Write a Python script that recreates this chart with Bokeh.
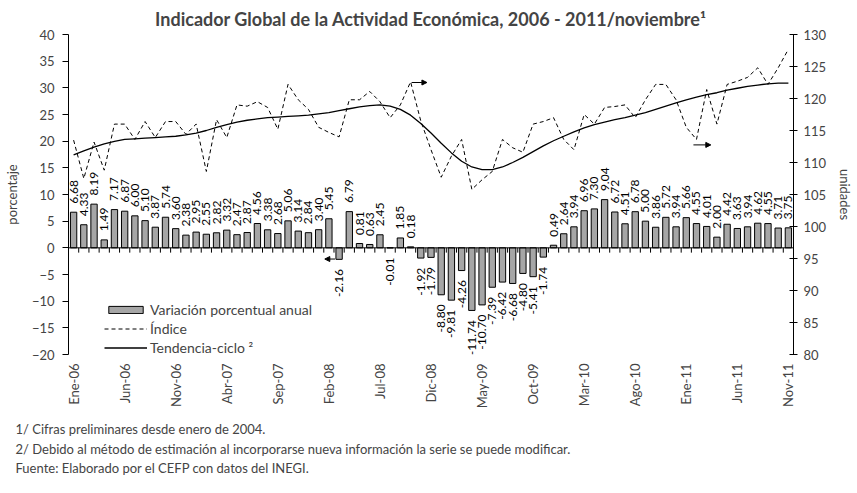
import math
from bokeh.plotting import figure
from bokeh.models import (Range1d, LinearAxis, FixedTicker, Legend, LegendItem,
                          Title, Arrow, NormalHead, ColumnDataSource, Span)
from bokeh.core.properties import value
from bokeh.embed import file_html
from bokeh.resources import INLINE

# ---------------- data ----------------
months = list(range(71))  # Ene-06 .. Nov-11

variacion = [
    6.68, 4.33, 8.19, 1.49, 7.17, 6.87, 6.00, 5.10, 3.87, 5.74, 3.60, 2.38,
    2.95, 2.55, 2.82, 3.32, 2.47, 2.87, 4.56, 3.38, 2.68, 5.06, 3.14, 2.84,
    3.40, 5.45, -2.16, 6.79, 0.81, 0.63, 2.45, -0.01, 1.85, 0.18, -1.92, -1.79,
    -8.80, -9.81, -4.26, -11.74, -10.70, -7.39, -6.42, -6.68, -4.80, -5.41, -1.74, 0.49,
    2.64, 3.94, 6.96, 7.30, 9.04, 6.72, 4.51, 6.78, 5.00, 3.86, 5.72, 3.94,
    5.66, 4.55, 4.01, 2.00, 4.42, 3.63, 3.94, 4.62, 4.55, 3.71, 3.75,
]

indice = [
    113.5, 107.5, 113.2, 108.8, 116.0, 116.0, 113.6, 116.4, 113.9, 116.4, 116.4, 114.4,
    116.0, 108.6, 116.7, 113.9, 119.0, 118.8, 119.5, 118.6, 115.2, 122.2, 119.8, 118.3,
    115.5, 114.7, 114.0, 119.8, 119.8, 121.1, 119.5, 117.0, 119.0, 122.6, 116.5, 112.0,
    107.7, 111.0, 113.6, 105.8, 107.3, 108.6, 113.6, 112.3, 111.6, 116.0, 116.4, 117.0,
    113.6, 112.0, 117.5, 116.0, 118.6, 118.75, 119.0, 117.0, 119.8, 122.2, 122.2, 119.8,
    115.5, 113.6, 121.4, 116.0, 122.2, 122.7, 123.3, 124.8, 122.2, 124.8, 127.7,
]

tendencia = [
    111.2, 111.8, 112.4, 112.9, 113.3, 113.6, 113.7, 113.8, 113.9, 114.0, 114.1, 114.3,
    114.6, 115.0, 115.5, 115.9, 116.3, 116.6, 116.8, 117.0, 117.1, 117.2, 117.3, 117.4,
    117.6, 117.8, 118.1, 118.4, 118.7, 118.9, 119.0, 118.8, 118.3, 117.4, 116.1, 114.6,
    113.0, 111.5, 110.2, 109.3, 108.9, 108.9, 109.3, 110.0, 110.8, 111.7, 112.6, 113.4,
    114.1, 114.8, 115.4, 115.9, 116.3, 116.7, 117.0, 117.4, 117.8, 118.3, 118.8, 119.3,
    119.8, 120.2, 120.6, 120.9, 121.3, 121.6, 121.9, 122.1, 122.3, 122.4, 122.4,
]

tick_pos = [0, 5, 10, 15, 20, 25, 30, 35, 40, 45, 50, 55, 60, 65, 70]
tick_labels = ["Ene-06", "Jun-06", "Nov-06", "Abr-07", "Sep-07", "Feb-08", "Jul-08",
               "Dic-08", "May-09", "Oct-09", "Mar-10", "Ago-10", "Ene-11", "Jun-11", "Nov-11"]

left_ticks = [-20, -15, -10, -5, 0, 5, 10, 15, 20, 25, 30, 35, 40]
right_ticks = [80, 85, 90, 95, 100, 105, 110, 115, 120, 125, 130]

titulo = "Indicador Global de la Actividad Económica, 2006 - 2011/noviembre¹"
notas = [
    "1/ Cifras preliminares desde enero de 2004.",
    "2/ Debido al método de estimación al incorporarse nueva información la serie se puede modificar.",
    "Fuente: Elaborado por el CEFP con datos del INEGI.",
]

FONT = "Lato"

# ---------------- figure ----------------
p = figure(frame_width=725, frame_height=320, output_backend="svg", toolbar_location=None,
           x_range=Range1d(-0.5, 70.5), y_range=Range1d(-20, 40),
           min_border_left=0, min_border_right=0, min_border_top=0, min_border_bottom=0)
p.extra_y_ranges = {"idx": Range1d(80, 130)}
p.outline_line_color = None
p.grid.visible = False
p.background_fill_color = "white"

p.title.text = titulo
p.title.align = "center"
p.title.offset = -2
p.title.text_font = FONT
p.title.text_font_size = "18px"
p.title.text_font_style = "bold"
p.title.standoff = 10

# x axis (labels only; line drawn at zero)
xa = p.xaxis[0]
xa.ticker = FixedTicker(ticks=tick_pos)
xa.major_label_overrides = {t: l for t, l in zip(tick_pos, tick_labels)}
xa.major_label_orientation = math.pi / 2
xa.axis_line_color = None
xa.major_tick_line_color = None
xa.minor_tick_line_color = None
xa.major_label_text_font = FONT
xa.major_label_text_font_size = "13px"
xa.major_label_standoff = 3

ya = p.yaxis[0]
ya.ticker = FixedTicker(ticks=left_ticks)
ya.major_tick_in = 0
ya.major_tick_out = 6
ya.minor_tick_line_color = None
ya.axis_label = "porcentaje"
ya.axis_label_text_font = FONT
ya.axis_label_text_font_size = "13px"
ya.axis_label_text_font_style = "normal"
ya.major_label_text_font = FONT
ya.major_label_text_font_size = "13px"
ya.major_label_standoff = 8
ya.axis_label_standoff = 9

ra = LinearAxis(y_range_name="idx", ticker=FixedTicker(ticks=right_ticks))
ra.major_tick_in = 4
ra.major_tick_out = 4
ra.minor_tick_line_color = None
ra.axis_label = "unidades"
ra.axis_label_text_font = FONT
ra.axis_label_text_font_size = "13px"
ra.axis_label_text_font_style = "normal"
ra.major_label_text_font = FONT
ra.major_label_text_font_size = "13px"
ra.major_label_standoff = 6
ra.axis_label_standoff = 8
p.add_layout(ra, "right")

# zero line with category tick marks
p.add_layout(Span(location=0, dimension="width", line_color="black", line_width=1))
bx = [m - 0.5 for m in months] + [months[-1] + 0.5]
p.segment(x0=bx, y0=[0] * len(bx), x1=bx, y1=[-0.9] * len(bx), line_color="black", line_width=1)

# bars
src = ColumnDataSource(dict(x=months, v=variacion))
bars = p.vbar(x="x", top="v", bottom=0, width=0.62, source=src,
              fill_color="#a6a6a6", line_color="black", line_width=1)

# bar labels
pos = [(m, v) for m, v in zip(months, variacion) if v >= 0]
neg = [(m, v) for m, v in zip(months, variacion) if v < 0]
p.text(x=[m for m, v in pos], y=[v + 1.6 for m, v in pos], text=[f"{v:.2f}" for m, v in pos],
       angle=math.pi / 2, text_align="left", text_baseline="middle",
       text_font=value(FONT), text_font_size="12px", text_color="black")
p.text(x=[m for m, v in neg], y=[v - 1.8 for m, v in neg], text=[f"{v:.2f}" for m, v in neg],
       angle=math.pi / 2, text_align="right", text_baseline="middle",
       text_font=value(FONT), text_font_size="12px", text_color="black")

# lines
l_idx = p.line(months, indice, y_range_name="idx", line_color="black", line_width=1,
               line_dash="4 3")
l_tr = p.line(months, tendencia, y_range_name="idx", line_color="black", line_width=1.3)

# arrows (annotations of the original chart)
for xs, xe, yy in [(25.6, 24.6, -2.1), (33.1, 34.6, 31.0), (60.7, 62.4, 19.3)]:
    p.add_layout(Arrow(end=NormalHead(size=5, fill_color="black", line_color="black"),
                       x_start=xs, y_start=yy, x_end=xe, y_end=yy,
                       line_color="black", line_width=1))

legend = Legend(items=[
    LegendItem(label="Variación porcentual anual", renderers=[bars]),
    LegendItem(label="Índice", renderers=[l_idx]),
    LegendItem(label="Tendencia-ciclo ²", renderers=[l_tr]),
], location=(36, -2), border_line_color=None, background_fill_alpha=0,
    label_text_font=FONT, label_text_font_size="14px",
    glyph_width=43, glyph_height=9, label_height=18, spacing=1, padding=0,
    label_standoff=3, margin=0)
p.add_layout(legend)

p.add_layout(Title(text="\n".join(notas), align="left", offset=-53, text_font=FONT,
                   text_font_size="13px", text_font_style="normal",
                   text_line_height=1.22, standoff=16), "below")

open("out.html", "w").write(file_html(p, INLINE))
